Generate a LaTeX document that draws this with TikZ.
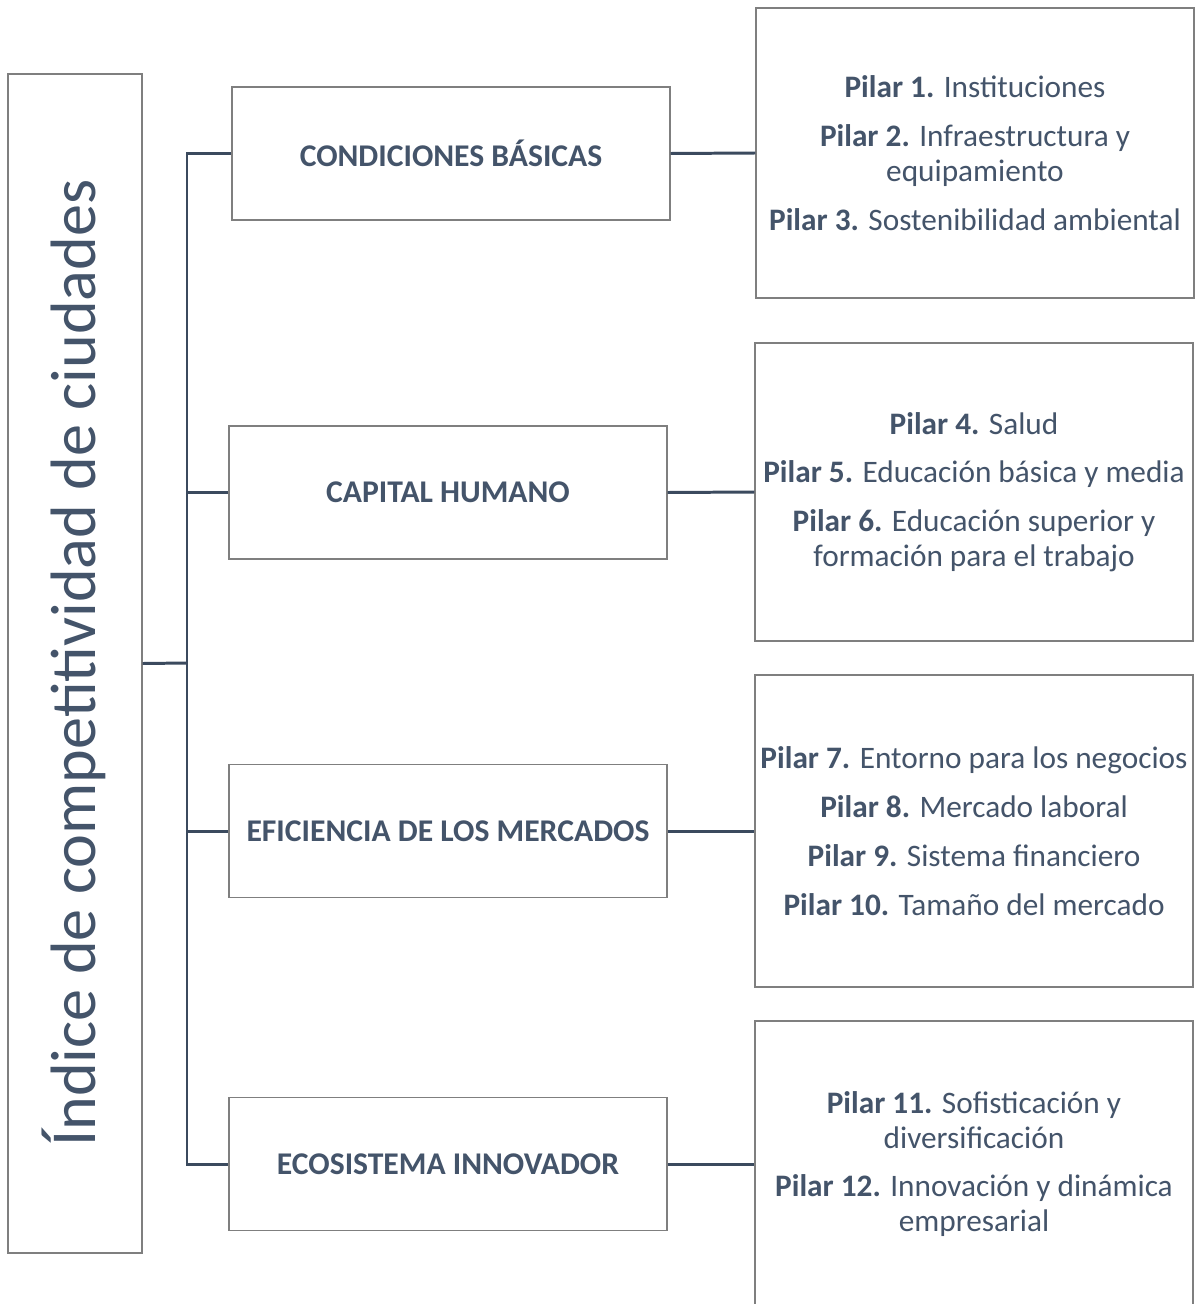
\documentclass[tikz,border=0pt]{standalone}
\usepackage{fontspec}
\setmainfont{Carlito}
\usepackage{tikz}
\usetikzlibrary{positioning}

\definecolor{textoazul}{HTML}{44546A}
\definecolor{lineaazul}{HTML}{3B4A5E}
\definecolor{bordegris}{HTML}{7F7F7F}

\tikzset{
	caja/.style={draw=bordegris, line width=0.8pt, fill=white, text=textoazul, align=center},
	dimension/.style={caja, minimum width=8.76cm, minimum height=2.66cm, font=\fontsize{18}{21}\selectfont\bfseries},
	pilares/.style={caja, minimum width=8.76cm, inner xsep=1pt, font=\fontsize{17.8}{19.8}\selectfont},
	conector/.style={draw=lineaazul, line width=1.7pt}
}

\begin{document}
\begin{tikzpicture}[x=0.02cm, y=-0.02cm]
	
	\useasboundingbox (0,0) rectangle (1203,1304);
	
	% Indice principal
	\node[caja, minimum width=2.68cm, minimum height=23.58cm] (Indice) at (75,663.5) {};
	\node[rotate=90, text=textoazul, font=\fontsize{36.5}{44}\selectfont] (Titulo) at (74,663) {Índice de competitividad de ciudades};
	
	% Dimensiones
	\node[dimension] (Dim1) at (451,153.5) {CONDICIONES BÁSICAS};
	\node[dimension] (Dim2) at (448,492.5) {CAPITAL HUMANO};
	\node[dimension] (Dim3) at (448,831) {EFICIENCIA DE LOS MERCADOS};
	\node[dimension] (Dim4) at (448,1164) {ECOSISTEMA INNOVADOR};
	
	% Pilares
	\node[pilares, minimum height=5.8cm] (Pil1) at (975,153) {%
		\textbf{Pilar 1.} Instituciones\\[0.28cm]
		\textbf{Pilar 2.} Infraestructura y\\ equipamiento\\[0.28cm]
		\textbf{Pilar 3.} Sostenibilidad ambiental};
	\node[pilares, minimum height=5.96cm] (Pil2) at (974,492) {%
		\textbf{Pilar 4.} Salud\\[0.28cm]
		\textbf{Pilar 5.} Educación básica y media\\[0.28cm]
		\textbf{Pilar 6.} Educación superior y\\ formación para el trabajo};
	\node[pilares, minimum height=6.24cm] (Pil3) at (974,831) {%
		\textbf{Pilar 7.} Entorno para los negocios\\[0.28cm]
		\textbf{Pilar 8.} Mercado laboral\\[0.28cm]
		\textbf{Pilar 9.} Sistema financiero\\[0.28cm]
		\textbf{Pilar 10.} Tamaño del mercado};
	\node[pilares, minimum height=5.72cm] (Pil4) at (974,1164) {%
		\textbf{Pilar 11.} Sofisticación y\\ diversificación\\[0.28cm]
		\textbf{Pilar 12.} Innovación y dinámica\\ empresarial};
	
	% Conexiones
	\coordinate (Bus) at (187,663);
	\draw[conector] (Indice.east) -- (Bus);
	\foreach \i in {1,...,4}{
		\draw[conector] (Bus) |- (Dim\i.west);
		\draw[conector] (Dim\i.east) -- (Pil\i.west);
	}
	
\end{tikzpicture}
\end{document}
